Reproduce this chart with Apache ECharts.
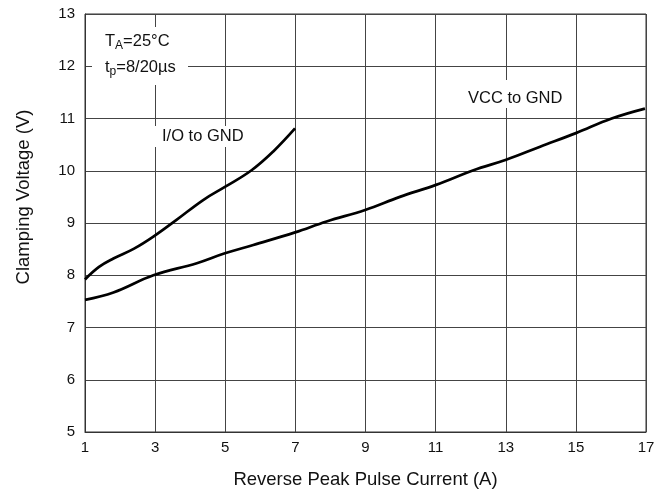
<!DOCTYPE html>
<html>
<head>
<meta charset="utf-8">
<script src="https://cdn.jsdelivr.net/npm/echarts@6/dist/echarts.min.js"></script>
<style>
html,body{margin:0;padding:0;background:#fff;}
#c{width:671px;height:500px;}
</style>
</head>
<body>
<div id="c"></div>
<script>
// Data
var ioCurrent = [1, 1.4, 1.81, 2.4, 2.95, 3.61, 4.37, 4.99, 5.75, 6.37, 6.99];
var ioVoltage = [7.92, 8.16, 8.32, 8.51, 8.74, 9.06, 9.44, 9.69, 10.01, 10.37, 10.81];
var vccCurrent = [1, 1.81, 2.95, 4.19, 4.99, 5.8, 6.99, 7.89, 8.99, 9.98, 11.01, 12.08, 13.01, 13.98, 15.0, 16.02, 16.97];
var vccVoltage = [7.53, 7.67, 8.0, 8.23, 8.42, 8.58, 8.82, 9.03, 9.25, 9.50, 9.73, 10.01, 10.21, 10.46, 10.72, 11.0, 11.19];
var xTickStart = 1;   // first x tick label
var xTickEnd = 17;    // last x tick label
var xTickStep = 2;
var yMin = 5, yMax = 13, yStep = 1;

// axis runs from 0 to (xTickEnd - xTickStart) so ticks start on a multiple of the interval
function pairs(xs, ys) {
  return xs.map(function (x, i) { return [x - xTickStart, ys[i]]; });
}

var font = 'Liberation Sans, Arial, sans-serif';
var annFont = '16.5px ' + font;
var sub = {s: {fontSize: 12, fontFamily: font, fill: '#111', padding: [9, 0, 0, 0]}};
var chart = echarts.init(document.getElementById('c'), null, {renderer: 'canvas'});
chart.setOption({
  animation: false,
  backgroundColor: '#fff',
  grid: {left: 85, right: 25, top: 14, bottom: 68, show: true, borderColor: '#333', borderWidth: 1, backgroundColor: 'transparent'},
  xAxis: {
    type: 'value', min: 0, max: xTickEnd - xTickStart, interval: xTickStep,
    name: 'Reverse Peak Pulse Current (A)', nameLocation: 'middle', nameGap: 38,
    nameTextStyle: {fontFamily: font, fontSize: 18.5, color: '#111'},
    axisLine: {show: true, lineStyle: {color: '#333', width: 1}},
    axisTick: {show: false},
    axisLabel: {fontFamily: font, fontSize: 15, color: '#111', margin: 8,
      formatter: function (v) { return String(v + xTickStart); }},
    splitLine: {show: true, lineStyle: {color: '#444', width: 1}}
  },
  yAxis: {
    type: 'value', min: yMin, max: yMax, interval: yStep,
    name: 'Clamping Voltage (V)', nameLocation: 'middle', nameGap: 52,
    nameTextStyle: {fontFamily: font, fontSize: 18.5, color: '#111', padding: [0, 0, 0, 52]},
    axisLine: {show: true, lineStyle: {color: '#333', width: 1}},
    axisTick: {show: false},
    axisLabel: {fontFamily: font, fontSize: 15, color: '#111', margin: 10},
    splitLine: {show: true, lineStyle: {color: '#444', width: 1}}
  },
  series: [
    {type: 'line', name: 'I/O to GND', data: pairs(ioCurrent, ioVoltage), smooth: 0.4,
      showSymbol: false, lineStyle: {color: '#000', width: 2.7}, z: 5},
    {type: 'line', name: 'VCC to GND', data: pairs(vccCurrent, vccVoltage), smooth: 0.4,
      showSymbol: false, lineStyle: {color: '#000', width: 2.7}, z: 5}
  ],
  graphic: [
    {type: 'rect', shape: {x: 92, y: 27, width: 96, height: 58}, style: {fill: '#fff'}, z: 10},
    {type: 'text', x: 105, y: 41, z: 11,
      style: {text: 'T{s|A}=25°C', font: annFont, fill: '#111', verticalAlign: 'middle', rich: sub}},
    {type: 'text', x: 105, y: 67, z: 11,
      style: {text: 't{s|p}=8/20µs', font: annFont, fill: '#111', verticalAlign: 'middle', rich: sub}},
    {type: 'rect', shape: {x: 150, y: 126, width: 100, height: 21}, style: {fill: '#fff'}, z: 10},
    {type: 'text', x: 162, y: 136.5, z: 11,
      style: {text: 'I/O to GND', font: annFont, fill: '#111', verticalAlign: 'middle'}},
    {type: 'rect', shape: {x: 462, y: 80, width: 106, height: 28}, style: {fill: '#fff'}, z: 10},
    {type: 'text', x: 468, y: 98, z: 11,
      style: {text: 'VCC to GND', font: annFont, fill: '#111', verticalAlign: 'middle'}}
  ]
});
</script>
</body>
</html>
